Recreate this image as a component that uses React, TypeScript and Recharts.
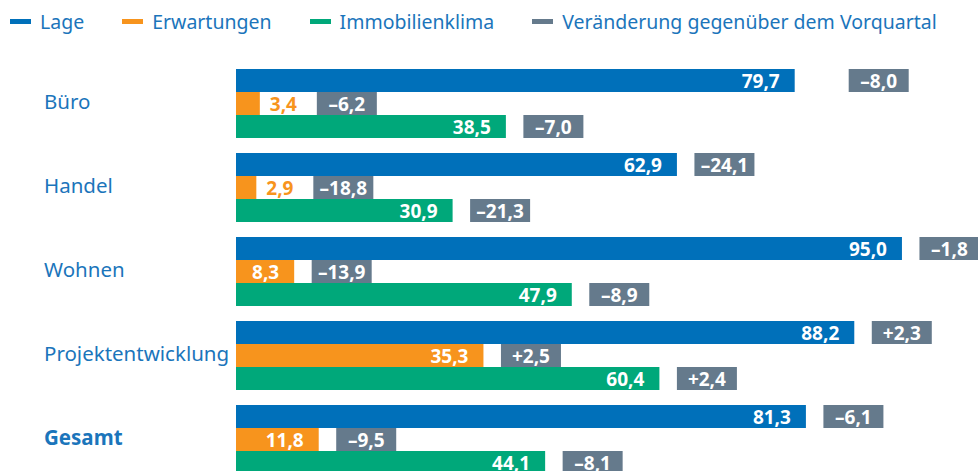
import React from 'react';
import { BarChart, Bar, XAxis, YAxis, LabelList, Legend } from 'recharts';

const categories = ['Büro', 'Handel', 'Wohnen', 'Projektentwicklung', 'Gesamt'];
const lage = [79.7, 62.9, 95.0, 88.2, 81.3];
const erwartungen = [3.4, 2.9, 8.3, 35.3, 11.8];
const klima = [38.5, 30.9, 47.9, 60.4, 44.1];
const lageChange = [-8.0, -24.1, -1.8, 2.3, -6.1];
const erwartungenChange = [-6.2, -18.8, -13.9, 2.5, -9.5];
const klimaChange = [-7.0, -21.3, -8.9, 2.4, -8.1];
const seriesNames = ['Lage', 'Erwartungen', 'Immobilienklima', 'Veränderung gegenüber dem Vorquartal'];

const COLORS = {
  lage: '#0070BA',
  erw: '#F7941D',
  klima: '#00A87A',
  change: '#657A8C',
  text: '#1B75BB',
};
const FONT = '"Noto Sans", sans-serif';

const data = categories.map((name, i) => ({
  name,
  lage: lage[i],
  erw: erwartungen[i],
  klima: klima[i],
}));

const fmt = (v: number) => v.toFixed(1).replace('.', ',');
const fmtChg = (v: number) => (v > 0 ? '+' : '–') + Math.abs(v).toFixed(1).replace('.', ',');

function makeLabel(color: string, changes: number[], wideGapIdx: number[] = []) {
  return (props: any) => {
    const x = Number(props.x);
    const y = Number(props.y);
    const w = Number(props.width);
    const h = Number(props.height);
    const index = props.index as number;
    const value = Number(props.value);
    const xe = x + w;
    const cy = y + h / 2;
    const inside = w > 45;
    const gap = inside ? (wideGapIdx.includes(index) ? 54 : 17.5) : 57;
    const bx = xe + gap;
    return (
      <g>
        {inside ? (
          <text x={xe - 15} y={cy} textAnchor="end" dominantBaseline="central" fill="#fff"
            fontFamily={FONT} fontSize={19} fontWeight={700}>{fmt(value)}</text>
        ) : (
          <text x={xe + 10} y={cy} textAnchor="start" dominantBaseline="central" fill={color}
            fontFamily={FONT} fontSize={19} fontWeight={700}>{fmt(value)}</text>
        )}
        <rect x={bx} y={y} width={60} height={h} fill={COLORS.change} />
        <text x={bx + 30} y={cy} textAnchor="middle" dominantBaseline="central" fill="#fff"
          fontFamily={FONT} fontSize={19} fontWeight={700}>{fmtChg(changes[index])}</text>
      </g>
    );
  };
}

const legendColors = [COLORS.lage, COLORS.erw, COLORS.klima, COLORS.change];

const renderLegend = () => (
  <div style={{ display: 'flex', alignItems: 'center', height: 44, paddingLeft: 10, paddingBottom: 2, fontFamily: FONT, fontSize: 19.5, color: COLORS.text, boxSizing: 'border-box', whiteSpace: 'nowrap' }}>
    {seriesNames.map((n, i) => (
      <div key={n} style={{ display: 'flex', alignItems: 'center', marginRight: 38 }}>
        <span style={{ display: 'inline-block', width: 21, height: 5, background: legendColors[i], marginRight: 9 }} />
        <span>{n}</span>
      </div>
    ))}
  </div>
);

const CategoryTick = (props: any) => {
  const { y, payload } = props;
  return (
    <text x={44} y={Number(y) - 2} dominantBaseline="central" fill={COLORS.text} fontSize={20.5} fontFamily={FONT}
      fontWeight={payload.value === 'Gesamt' ? 700 : 400}>{payload.value}</text>
  );
};

export default function App() {
  return (
    <div style={{ position: 'absolute', top: 0, left: 0, width: 978, height: 471, overflow: 'hidden', background: '#fff' }}>
      <BarChart width={978} height={481} data={data} layout="vertical"
        margin={{ top: 17, right: 41, bottom: 0, left: 0 }} barCategoryGap={8} barGap={0}>
        <XAxis type="number" domain={[0, 100]} hide />
        <YAxis type="category" dataKey="name" width={236} axisLine={false} tickLine={false} tick={<CategoryTick />} interval={0} />
        <Legend verticalAlign="top" align="left" content={renderLegend} wrapperStyle={{ top: 0, left: 0, width: 978 }} />
        <Bar dataKey="lage" name="Lage" fill={COLORS.lage} isAnimationActive={false}>
          <LabelList dataKey="lage" content={makeLabel(COLORS.lage, lageChange, [0])} />
        </Bar>
        <Bar dataKey="erw" name="Erwartungen" fill={COLORS.erw} isAnimationActive={false}>
          <LabelList dataKey="erw" content={makeLabel(COLORS.erw, erwartungenChange)} />
        </Bar>
        <Bar dataKey="klima" name="Immobilienklima" fill={COLORS.klima} isAnimationActive={false}>
          <LabelList dataKey="klima" content={makeLabel(COLORS.klima, klimaChange)} />
        </Bar>
      </BarChart>
    </div>
  );
}
